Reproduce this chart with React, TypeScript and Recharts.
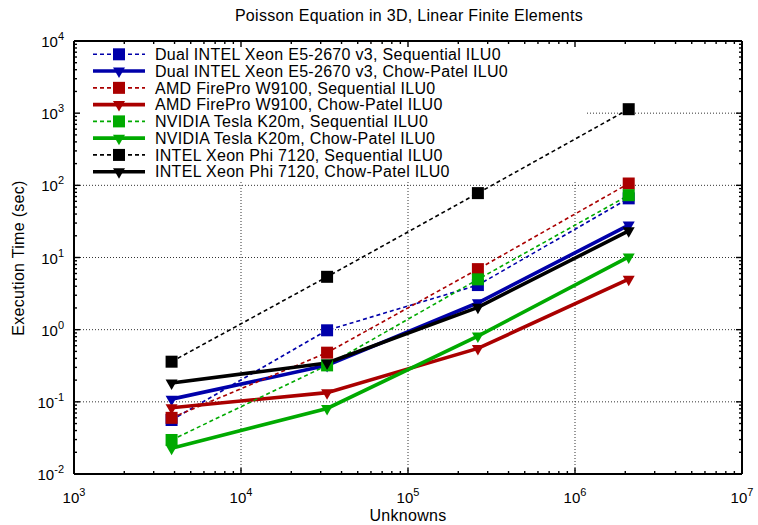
import React from 'react';
import { LineChart, Line, XAxis, YAxis, ReferenceLine, ReferenceArea } from 'recharts';

// ---------- data ----------
const unknowns = [3840, 32768, 262144, 2097152];

const xeonSeq = [0.056, 0.98, 4.15, 66];
const xeonCP = [0.109, 0.32, 2.36, 28.1];
const amdSeq = [0.06, 0.48, 6.9, 106];
const amdCP = [0.083, 0.134, 0.55, 5.0];
const nvSeq = [0.0296, 0.32, 4.98, 73];
const nvCP = [0.0227, 0.081, 0.815, 10.2];
const phiSeq = [0.36, 5.4, 78, 1135];
const phiCP = [0.182, 0.345, 2.04, 23.4];

const seriesNames = [
  'Dual INTEL Xeon E5-2670 v3, Sequential ILU0',
  'Dual INTEL Xeon E5-2670 v3, Chow-Patel ILU0',
  'AMD FirePro W9100, Sequential ILU0',
  'AMD FirePro W9100, Chow-Patel ILU0',
  'NVIDIA Tesla K20m, Sequential ILU0',
  'NVIDIA Tesla K20m, Chow-Patel ILU0',
  'INTEL Xeon Phi 7120, Sequential ILU0',
  'INTEL Xeon Phi 7120, Chow-Patel ILU0',
];

const xMajorTicks = [1e3, 1e4, 1e5, 1e6, 1e7];
const yMajorTicks = [1e-2, 1e-1, 1e0, 1e1, 1e2, 1e3, 1e4];
const minorMultipliers = [2, 3, 4, 5, 6, 7, 8, 9];
const xGridValues = [1e4, 1e5, 1e6];
const yGridValues = [1e-1, 1e0, 1e1, 1e2, 1e3];

const titleText = 'Poisson Equation in 3D, Linear Finite Elements';
const xLabelText = 'Unknowns';
const yLabelText = 'Execution Time (sec)';

// ---------- derived ----------
const withMinors = (majors: number[]) => {
  const out: number[] = [];
  majors.forEach((m, i) => {
    out.push(m);
    if (i < majors.length - 1) minorMultipliers.forEach((k) => out.push(m * k));
  });
  return out;
};
const xTicks = withMinors(xMajorTicks);
const yTicks = withMinors(yMajorTicks);

const BLUE = '#0000aa';
const RED = '#aa0000';
const GREEN = '#00aa00';
const BLACK = '#000000';

const seriesDefs = [
  { key: 'xeonSeq', values: xeonSeq, color: BLUE, seq: true },
  { key: 'xeonCP', values: xeonCP, color: BLUE, seq: false },
  { key: 'amdSeq', values: amdSeq, color: RED, seq: true },
  { key: 'amdCP', values: amdCP, color: RED, seq: false },
  { key: 'nvSeq', values: nvSeq, color: GREEN, seq: true },
  { key: 'nvCP', values: nvCP, color: GREEN, seq: false },
  { key: 'phiSeq', values: phiSeq, color: BLACK, seq: true },
  { key: 'phiCP', values: phiCP, color: BLACK, seq: false },
].map((s, i) => ({ ...s, name: seriesNames[i] }));

const data = unknowns.map((u, i) => {
  const row: Record<string, number> = { unknowns: u };
  seriesDefs.forEach((s) => {
    row[s.key] = s.values[i];
  });
  return row;
});

// ---------- styling ----------
const FONT = '"Liberation Sans", Arial, Helvetica, sans-serif';
const W = 758;
const H = 525;
// plot area: left 74, right 742, top 41, bottom 474
const BOTTOM_H = 30;
const TOP_H = 10;
const LEFT_W = 60;
const RIGHT_W = 10;
const MARGIN = {
  top: 41 - TOP_H,
  right: W - 742 - RIGHT_W,
  bottom: H - 474 - BOTTOM_H,
  left: 74 - LEFT_W,
};
const SEQ_WIDTH = 1.6;
const CP_WIDTH = 3.6;
const DASH = '4 3';

const isMajor = (v: number) => {
  const l = Math.log10(v);
  return Math.abs(l - Math.round(l)) < 1e-9;
};
const expOf = (v: number) => String(Math.round(Math.log10(v)));

const SquareShape = ({ cx, cy, color }: { cx: number; cy: number; color: string }) => (
  <rect x={cx - 6} y={cy - 6} width={12} height={12} fill={color} />
);
const TriShape = ({ cx, cy, color }: { cx: number; cy: number; color: string }) => (
  <polygon
    points={`${cx - 6},${cy - 3.5} ${cx + 6},${cy - 3.5} ${cx},${cy + 7}`}
    fill={color}
  />
);

const makeDot = (color: string, seq: boolean) => (p: any) => {
  const k = `d-${p.dataKey}-${p.index}`;
  if (p.cx == null || p.cy == null) return <g key={k} />;
  return (
    <g key={k}>
      {seq ? <SquareShape cx={p.cx} cy={p.cy} color={color} /> : <TriShape cx={p.cx} cy={p.cy} color={color} />}
    </g>
  );
};

const TICK_MAJOR = 6;
const TICK_MINOR = 3;
const TICK_STROKE = 1.4;

const BottomTick = (p: any) => {
  const { x, y, payload } = p;
  const v = payload.value;
  const major = isMajor(v);
  const len = major ? TICK_MAJOR : TICK_MINOR;
  return (
    <g>
      <line x1={x} x2={x} y1={y} y2={y - len} stroke="#000" strokeWidth={TICK_STROKE} />
      {major && (
        <text x={x} y={y + 29} textAnchor="middle" fontFamily={FONT} fontSize={15} fill="#000">
          10
          <tspan dy={-7} fontSize={11}>
            {expOf(v)}
          </tspan>
        </text>
      )}
    </g>
  );
};

const TopTick = (p: any) => {
  const { x, y, payload } = p;
  const len = isMajor(payload.value) ? TICK_MAJOR : TICK_MINOR;
  return <line x1={x} x2={x} y1={y} y2={y + len} stroke="#000" strokeWidth={TICK_STROKE} />;
};

const LeftTick = (p: any) => {
  const { x, y, payload } = p;
  const v = payload.value;
  const major = isMajor(v);
  const len = major ? TICK_MAJOR : TICK_MINOR;
  return (
    <g>
      <line x1={x} x2={x + len} y1={y} y2={y} stroke="#000" strokeWidth={TICK_STROKE} />
      {major && (
        <text x={x - 10} y={y + 6} textAnchor="end" fontFamily={FONT} fontSize={15} fill="#000">
          10
          <tspan dy={-7} fontSize={11}>
            {expOf(v)}
          </tspan>
        </text>
      )}
    </g>
  );
};

const RightTick = (p: any) => {
  const { x, y, payload } = p;
  const len = isMajor(payload.value) ? TICK_MAJOR : TICK_MINOR;
  return <line x1={x} x2={x - len} y1={y} y2={y} stroke="#000" strokeWidth={TICK_STROKE} />;
};

const AXIS_LINE = { stroke: '#000', strokeWidth: 2 };

// ---------- legend overlay ----------
const LEG_X0 = 93;
const LEG_X1 = 145;
const LEG_TEXT_X = 155;
const LEG_Y0 = 54.3;
const LEG_DY = 16.77;

const LegendOverlay = () => (
  <svg
    width={W}
    height={H}
    style={{ position: 'absolute', left: 0, top: 0, pointerEvents: 'none' }}
  >
    <text x={409} y={21} textAnchor="middle" fontFamily={FONT} fontSize={16} letterSpacing={0.3} fill="#000">
      {titleText}
    </text>
    <text x={408} y={521} textAnchor="middle" fontFamily={FONT} fontSize={16} letterSpacing={0.3} fill="#000">
      {xLabelText}
    </text>
    <text
      x={0}
      y={0}
      transform={`translate(24,258) rotate(-90)`}
      textAnchor="middle"
      fontFamily={FONT}
      fontSize={16}
      letterSpacing={0.3}
      fill="#000"
    >
      {yLabelText}
    </text>
    {seriesDefs.map((s, i) => {
      const cy = LEG_Y0 + i * LEG_DY;
      const mx = (LEG_X0 + LEG_X1) / 2;
      return (
        <g key={s.key}>
          <line
            x1={LEG_X0}
            x2={LEG_X1}
            y1={cy}
            y2={cy}
            stroke={s.color}
            strokeWidth={s.seq ? SEQ_WIDTH : CP_WIDTH}
            strokeDasharray={s.seq ? DASH : undefined}
          />
          {s.seq ? <SquareShape cx={mx} cy={cy} color={s.color} /> : <TriShape cx={mx} cy={cy} color={s.color} />}
          <text x={LEG_TEXT_X} y={cy + 5.7} fontFamily={FONT} fontSize={16} letterSpacing={0.3} fill="#000">
            {s.name}
          </text>
        </g>
      );
    })}
  </svg>
);

export default function App() {
  return (
    <div style={{ position: 'absolute', left: 0, top: 0, width: W, height: H, background: '#fff' }}>
      <LineChart width={W} height={H} data={data} margin={MARGIN}>
        <XAxis
          xAxisId="b"
          dataKey="unknowns"
          type="number"
          scale="log"
          domain={[1e3, 1e7]}
          allowDataOverflow
          ticks={xTicks}
          interval={0}
          tick={(p: any) => <BottomTick {...p} />}
          tickLine={false}
          tickSize={0}
          tickMargin={0}
          axisLine={AXIS_LINE}
          height={BOTTOM_H}
          orientation="bottom"
        />
        <XAxis
          xAxisId="t"
          dataKey="unknowns"
          type="number"
          scale="log"
          domain={[1e3, 1e7]}
          allowDataOverflow
          ticks={xTicks}
          interval={0}
          tick={(p: any) => <TopTick {...p} />}
          tickLine={false}
          tickSize={0}
          tickMargin={0}
          axisLine={AXIS_LINE}
          height={TOP_H}
          orientation="top"
        />
        <YAxis
          yAxisId="l"
          type="number"
          scale="log"
          domain={[1e-2, 1e4]}
          allowDataOverflow
          ticks={yTicks}
          interval={0}
          tick={(p: any) => <LeftTick {...p} />}
          tickLine={false}
          tickSize={0}
          tickMargin={0}
          axisLine={AXIS_LINE}
          width={LEFT_W}
          orientation="left"
        />
        <YAxis
          yAxisId="r"
          type="number"
          scale="log"
          domain={[1e-2, 1e4]}
          allowDataOverflow
          ticks={yTicks}
          interval={0}
          tick={(p: any) => <RightTick {...p} />}
          tickLine={false}
          tickSize={0}
          tickMargin={0}
          axisLine={AXIS_LINE}
          width={RIGHT_W}
          orientation="right"
        />
        {xGridValues.map((v) => (
          <ReferenceLine
            key={`gx-${v}`}
            x={v}
            xAxisId="b"
            yAxisId="l"
            stroke="#333"
            strokeWidth={1}
            strokeDasharray="1 2"
            zIndex={-100}
          />
        ))}
        {yGridValues.map((v) => (
          <ReferenceLine
            key={`gy-${v}`}
            y={v}
            xAxisId="b"
            yAxisId="l"
            stroke="#333"
            strokeWidth={1}
            strokeDasharray="1 2"
            zIndex={-100}
          />
        ))}
        <ReferenceArea
          x1={1e3}
          x2={1.15e6}
          y1={112}
          y2={1e4}
          xAxisId="b"
          yAxisId="l"
          fill="#ffffff"
          fillOpacity={1}
          stroke="none"
          zIndex={-50}
        />
        {seriesDefs.map((s) => (
          <Line
            key={s.key}
            xAxisId="b"
            yAxisId="l"
            type="linear"
            dataKey={s.key}
            name={s.name}
            stroke={s.color}
            strokeWidth={s.seq ? SEQ_WIDTH : CP_WIDTH}
            strokeDasharray={s.seq ? DASH : undefined}
            dot={makeDot(s.color, s.seq)}
            activeDot={false}
            isAnimationActive={false}
          />
        ))}
      </LineChart>
      <LegendOverlay />
    </div>
  );
}
